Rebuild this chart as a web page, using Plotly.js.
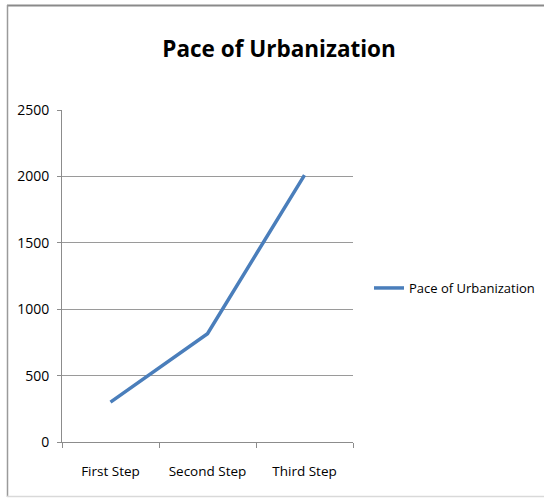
<!DOCTYPE html>
<html>
<head>
<meta charset="utf-8">
<script src="https://cdn.plot.ly/plotly-3.0.1.min.js"></script>
<style>
html,body{margin:0;padding:0;background:#fff;}
#chart{width:544px;height:498px;}
</style>
</head>
<body>
<div id="chart"></div>
<script>
const categories = ["First Step", "Second Step", "Third Step"];
const seriesName = "Pace of Urbanization";
const values = [300, 815, 2010];
const yTicks = [0, 500, 1000, 1500, 2000, 2500];

const FONT = "'Open Sans', 'Noto Sans', sans-serif";

const trace = {
  x: categories,
  y: values,
  type: "scatter",
  mode: "lines",
  name: seriesName,
  line: {color: "#4a7ebb", width: 3.5},
  showlegend: true
};

const layout = {
  width: 544,
  height: 498,
  margin: {l: 62, r: 191, t: 110, b: 56, pad: 0, autoexpand: false},
  paper_bgcolor: "#ffffff",
  plot_bgcolor: "#ffffff",
  font: {family: FONT, size: 14, color: "#000000"},
  title: {
    text: "<b>Pace of Urbanization</b>",
    font: {family: FONT, size: 22.5, color: "#000000"},
    xref: "container", yref: "container",
    x: 0.513, xanchor: "center",
    y: 1 - 49/498, yanchor: "middle"
  },
  xaxis: {
    type: "category",
    range: [-0.5, 2.5],
    showgrid: false,
    showline: true,
    linecolor: "#8c8c8c",
    linewidth: 1,
    ticks: "outside",
    tickson: "boundaries",
    ticklen: 5,
    tickcolor: "#8c8c8c",
    tickangle: 0,
    ticklabelstandoff: 17,
    tickfont: {family: FONT, size: 13.5, color: "#000"},
    zeroline: false,
    fixedrange: true
  },
  yaxis: {
    range: [0, 2500],
    tickvals: yTicks,
    ticktext: yTicks.map(String),
    showgrid: true,
    gridcolor: "#9a9a9a",
    gridwidth: 1,
    showline: true,
    linecolor: "#8c8c8c",
    linewidth: 1,
    ticks: "outside",
    ticklen: 4,
    tickcolor: "#8c8c8c",
    ticklabelstandoff: 5,
    tickfont: {family: FONT, size: 14, color: "#000"},
    zeroline: false,
    fixedrange: true
  },
  legend: {
    xref: "paper", yref: "paper",
    x: (369 - 62) / 291, xanchor: "left",
    y: (442 - 288) / 332, yanchor: "middle",
    font: {family: FONT, size: 13, color: "#000"},
    bgcolor: "rgba(0,0,0,0)",
    borderwidth: 0,
    tracegroupgap: 0
  },
  shapes: [
    {type: "line", xref: "paper", yref: "paper",
     x0: (7 - 62) / 291, x1: 2, y0: (442 - 5.5) / 332, y1: (442 - 5.5) / 332,
     line: {color: "#8a8a8a", width: 2}},
    {type: "line", xref: "paper", yref: "paper",
     x0: (7.5 - 62) / 291, x1: (7.5 - 62) / 291, y0: (442 - 5) / 332, y1: (442 - 497) / 332,
     line: {color: "#9a9a9a", width: 1.5}},
    {type: "line", xref: "paper", yref: "paper",
     x0: (7 - 62) / 291, x1: 2, y0: (442 - 496.5) / 332, y1: (442 - 496.5) / 332,
     line: {color: "#d9d9d9", width: 1.5}}
  ],
  hovermode: false
};

Plotly.newPlot("chart", [trace], layout, {displayModeBar: false, staticPlot: true});
</script>
</body>
</html>
